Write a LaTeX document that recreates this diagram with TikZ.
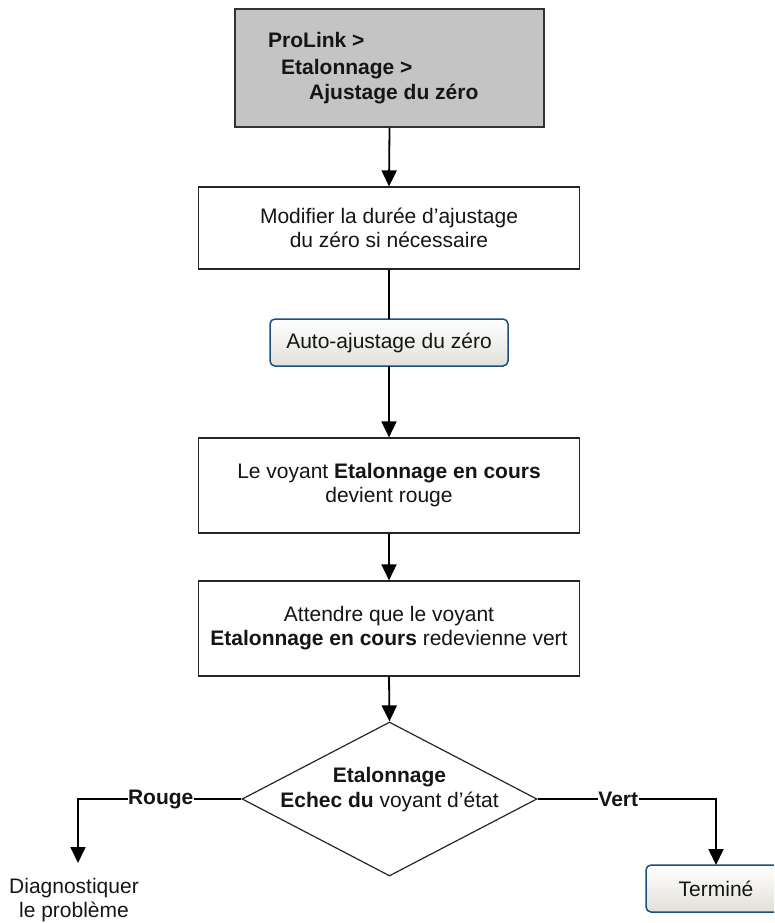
\documentclass[tikz,border=0pt]{standalone}
\usepackage{fontspec}
\setmainfont{Liberation Sans}
\usetikzlibrary{arrows.meta,shapes.geometric}
\definecolor{navgray}{HTML}{C4C4C4}
\definecolor{btnedge}{HTML}{1D4F7E}
\definecolor{btnlow}{HTML}{E2E0DA}
\definecolor{ink}{HTML}{151515}
\begin{document}
\begin{tikzpicture}[x=1pt,y=-1pt,
  every node/.style={font=\fontsize{21}{24}\selectfont, text=ink},
  procbox/.style={draw=black!85, line width=1.2pt, fill=white, minimum width=381pt,
    inner sep=0pt, align=center},
  navbox/.style={draw=black!80, line width=1.2pt, fill=navgray, inner sep=0pt},
  navline/.style={anchor=base west, inner sep=0pt, font=\bfseries\fontsize{21}{24}\selectfont},
  btn/.style={draw=btnedge, line width=1.5pt, rounded corners=5pt, top color=white,
    bottom color=btnlow, minimum height=47pt, inner sep=0pt, outer sep=0pt},
  decision/.style={diamond, draw=black!85, line width=1.2pt, fill=white, inner sep=0pt,
    minimum width=295pt, minimum height=154pt},
  flow/.style={line width=1.8pt, draw=black},
  arr/.style={flow, -{Triangle[length=16pt,width=15pt]}},
  tag/.style={fill=white, inner sep=0.5pt, font=\bfseries\fontsize{21}{24}\selectfont}
]
\path[use as bounding box, clip] (0,0) rectangle (774,923);

% menu path
\node[navbox, minimum width=309pt, minimum height=118pt] (nav) at (389.5,68) {};
\node[navline] (nav1) at (268,48) {ProLink >};
\node[navline] (nav2) at (281,75) {Etalonnage >};
\node[navline] (nav3) at (309,100) {Ajustage du zéro};

% steps
\node[procbox, minimum height=82pt] (mod) at (389,228)
  {Modifier la durée d’ajustage\\du zéro si nécessaire};
\node[btn, minimum width=238pt] (auto) at (389,342.5) {Auto-ajustage du zéro};
\node[procbox, minimum height=95pt] (on) at (389,485.5)
  {Le voyant \textbf{Etalonnage en cours}\\devient rouge};
\node[procbox, minimum height=95pt] (wait) at (389,628.5)
  {Attendre que le voyant\\\textbf{Etalonnage en cours} redevienne vert};

% decision
\node[decision] (check) at (389.5,799) {};
\node[anchor=base, inner sep=0pt, font=\bfseries\fontsize{21}{24}\selectfont] (chk1) at (389.5,782) {Etalonnage};
\node[anchor=base, inner sep=0pt] (chk2) at (389.5,807) {\textbf{Echec du} voyant d’état};

% outcomes
\node[anchor=north, inner sep=0pt, align=center] (diag) at (74,878)
  {Diagnostiquer\\le problème};
\node[btn, minimum width=140pt] (done) at (716,888.5) {Terminé};

% connectors
\draw[arr] (nav.south) -- (mod.north);
\draw[flow] (mod.south) -- (auto.north);
\draw[arr] (auto.south) -- (on.north);
\draw[arr] (on.south) -- (wait.north);
\draw[arr] (wait.south) -- (check.north);
\draw[arr] (check.west) -| ([xshift=4pt,yshift=15pt]diag.north)
  node[tag, pos=0.247] (rouge) {Rouge};
\draw[arr] (check.east) -| (done.north)
  node[tag, pos=0.226] (vert) {Vert};
\end{tikzpicture}
\end{document}
